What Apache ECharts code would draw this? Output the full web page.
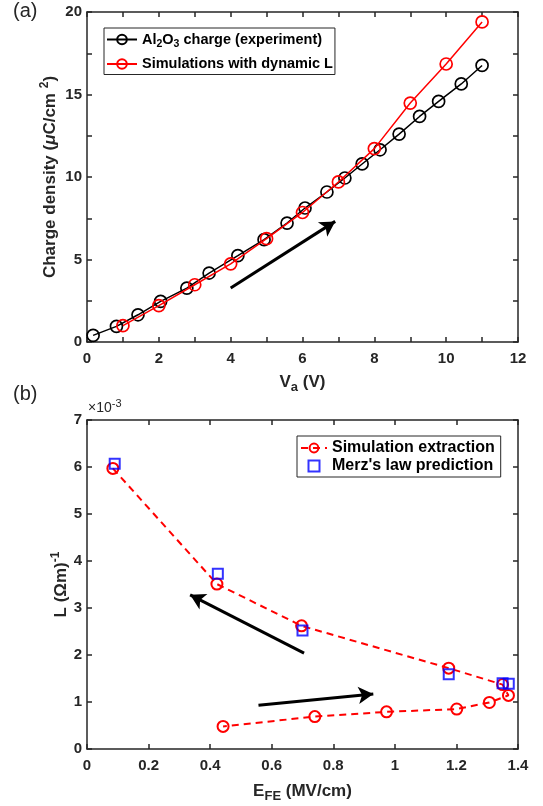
<!DOCTYPE html>
<html>
<head>
<meta charset="utf-8">
<script src="https://cdn.jsdelivr.net/npm/echarts@6/dist/echarts.min.js"></script>
<style>
  html, body { margin: 0; padding: 0; background: #fff; }
  #chart { width: 543px; height: 806px; }
</style>
</head>
<body>
<div id="chart"></div>
<script>
// (a) charge density vs applied voltage
var expVa = [0.17, 0.82, 1.42, 2.05, 2.78, 3.40, 4.20, 4.93, 5.57, 6.07, 6.68, 7.18, 7.66, 8.16, 8.69, 9.26, 9.79, 10.42, 11.0];
var expQ = [0.4, 0.95, 1.65, 2.46, 3.27, 4.18, 5.23, 6.2, 7.21, 8.12, 9.09, 9.94, 10.79, 11.65, 12.6, 13.67, 14.58, 15.64, 16.76];
var simVa = [1, 2, 3, 4, 5, 6, 7, 8, 9, 10, 11];
var simQ = [0.99, 2.2, 3.47, 4.74, 6.26, 7.85, 9.7, 11.72, 14.48, 16.85, 19.4];
var arrowA = [[4.0, 3.27], [6.91, 7.31]];

// (b) L vs E_FE (x1e-3)
var extE = [0.084, 0.422, 0.697, 1.175, 1.35, 1.369, 1.307, 1.201, 0.973, 0.74, 0.442];
var extL = [5.97, 3.51, 2.62, 1.72, 1.37, 1.14, 0.99, 0.85, 0.79, 0.69, 0.48];
var merzE = [0.09, 0.425, 0.70, 1.175, 1.35, 1.37];
var merzL = [6.07, 3.73, 2.52, 1.59, 1.40, 1.39];
var arrowB1 = [[0.705, 2.04], [0.335, 3.28]];
var arrowB2 = [[0.557, 0.93], [0.93, 1.17]];

var ink = '#262626';
var fontFam = '"Liberation Sans", Arial, sans-serif';

function pairs(xs, ys) {
  var out = [];
  for (var i = 0; i < xs.length; i++) out.push([xs[i], ys[i]]);
  return out;
}

// 箭头 (markLine in data coords)
function arrowLine(a) {
  return {
    silent: true,
    symbol: ['none', 'arrow'],
    symbolSize: [13, 15],
    label: { show: false },
    lineStyle: { color: '#000', width: 3, type: 'solid' },
    emphasis: { disabled: true },
    data: a.map(function (p) { return [{ coord: p[0] }, { coord: p[1] }]; })
  };
}

var nameStyle = {
  color: ink, fontWeight: 'bold', fontSize: 17, fontFamily: fontFam,
  rich: {
    sub: { fontSize: 13, fontWeight: 'bold', color: ink, fontFamily: fontFam, padding: [11, 0, 0, 0] },
    sup: { fontSize: 12, fontWeight: 'bold', color: ink, fontFamily: fontFam, padding: [0, 0, 10, 0] },
    it: { fontSize: 17, fontWeight: 'bold', fontStyle: 'italic', color: ink, fontFamily: fontFam }
  }
};

function mainAxis(grid, pos, min, max, interval, fmt, extra) {
  var ax = {
    type: 'value', gridIndex: grid, position: pos, min: min, max: max, interval: interval,
    axisLine: { show: true, onZero: false, lineStyle: { color: ink, width: 1.5 } },
    axisTick: { show: true, inside: true, length: 5, lineStyle: { color: ink, width: 1.5 } },
    splitLine: { show: false },
    axisLabel: {
      show: !!fmt, formatter: fmt, color: ink, fontWeight: 'bold', fontSize: 15, fontFamily: fontFam,
      margin: (pos === 'left' || pos === 'right') ? 5 : 9
    }
  };
  for (var k in extra) ax[k] = extra[k];
  return ax;
}

var chart = echarts.init(document.getElementById('chart'), null, { renderer: 'canvas' });

var option = {
  animation: false,
  backgroundColor: '#fff',
  grid: [
    { left: 87, right: 25, top: 12, height: 330 },
    { left: 87, right: 25, top: 420, height: 329 }
  ],
  xAxis: [
    mainAxis(0, 'bottom', 0, 12, 1, function (v) { return v % 2 === 0 ? v : ''; }, {
      name: 'V{sub|a} (V)', nameLocation: 'middle', nameGap: 28, nameTextStyle: nameStyle
    }),
    mainAxis(0, 'top', 0, 12, 1, null, {}),
    mainAxis(1, 'bottom', 0, 1.4, 0.2, function (v) { return +v.toFixed(1); }, {
      name: 'E{sub|FE} (MV/cm)', nameLocation: 'middle', nameGap: 30, nameTextStyle: nameStyle
    }),
    mainAxis(1, 'top', 0, 1.4, 0.2, null, {})
  ],
  yAxis: [
    mainAxis(0, 'left', 0, 20, 2.5, function (v) { return v % 5 === 0 ? v : ''; }, {
      name: 'Charge density ({it|μ}C/cm {sup|2})', nameLocation: 'middle', nameGap: 26,
      nameMoveOverlap: false, nameTextStyle: nameStyle
    }),
    mainAxis(0, 'right', 0, 20, 2.5, null, {}),
    mainAxis(1, 'left', 0, 7, 1, function (v) { return v; }, {
      name: 'L (Ωm){sup|-1}', nameLocation: 'middle', nameGap: 15,
      nameMoveOverlap: false, nameTextStyle: nameStyle
    }),
    mainAxis(1, 'right', 0, 7, 1, null, {})
  ],
  legend: [
    {
      left: 104, top: 28, orient: 'vertical',
      data: ['Al2O3 charge (experiment)', 'Simulations with dynamic L'],
      itemWidth: 30, itemHeight: 12, itemGap: 7,
      padding: [4, 2, 3, 2],
      borderColor: ink, borderWidth: 1,
      backgroundColor: '#fff',
      formatter: function (n) {
        return n === 'Al2O3 charge (experiment)' ? 'Al{sub|2}O{sub|3} charge (experiment)' : n;
      },
      textStyle: {
        color: '#000', fontWeight: 'bold', fontSize: 14.5, fontFamily: fontFam,
        rich: {
          sub: { fontSize: 10.5, fontWeight: 'bold', color: '#000', fontFamily: fontFam, padding: [9, 0, 0, 0] }
        }
      }
    },
    {
      left: 297, top: 436, orient: 'vertical',
      data: [
        { name: 'Simulation extraction' },
        { name: "Merz's law prediction", icon: 'path://M0,0H10V10H0Z' }
      ],
      itemWidth: 26, itemHeight: 11, itemGap: 2,
      padding: [4, 6, 3, 3],
      borderColor: ink, borderWidth: 1,
      backgroundColor: '#fff',
      textStyle: { color: '#000', fontWeight: 'bold', fontSize: 16, fontFamily: fontFam }
    }
  ],
  graphic: [
    { type: 'text', left: 13, top: 1, style: { text: '(a)', fontSize: 20, fill: ink, fontFamily: fontFam } },
    { type: 'text', left: 13, top: 384, style: { text: '(b)', fontSize: 20, fill: ink, fontFamily: fontFam } },
    {
      type: 'text', left: 88, top: 398,
      style: {
        text: '×10{sup|-3}', fontSize: 14, fill: ink, fontFamily: fontFam,
        rich: { sup: { fontSize: 11, fill: ink, fontFamily: fontFam, padding: [0, 0, 9, 0] } }
      }
    }
  ],
  series: [
    {
      name: 'Al2O3 charge (experiment)', type: 'line', xAxisIndex: 0, yAxisIndex: 0,
      data: pairs(expVa, expQ),
      symbol: 'circle', symbolSize: 12,
      lineStyle: { color: '#000', width: 1.5 },
      itemStyle: { color: 'rgba(255,255,255,0)', borderColor: '#000', borderWidth: 1.7 },
      emphasis: { disabled: true },
      markLine: arrowLine([arrowA]),
      z: 3
    },
    {
      name: 'Simulations with dynamic L', type: 'line', xAxisIndex: 0, yAxisIndex: 0,
      data: pairs(simVa, simQ),
      symbol: 'circle', symbolSize: 12,
      lineStyle: { color: '#ff0000', width: 1.5 },
      itemStyle: { color: 'rgba(255,255,255,0)', borderColor: '#ff0000', borderWidth: 1.7 },
      emphasis: { disabled: true },
      z: 4
    },
    {
      name: 'Simulation extraction', type: 'line', xAxisIndex: 2, yAxisIndex: 2,
      data: pairs(extE, extL),
      symbol: 'circle', symbolSize: 11,
      lineStyle: { color: '#ff0000', width: 2, type: [7, 5] },
      itemStyle: { color: 'rgba(255,255,255,0)', borderColor: '#ff0000', borderWidth: 2 },
      emphasis: { disabled: true },
      markLine: arrowLine([arrowB1, arrowB2]),
      z: 3
    },
    {
      name: "Merz's law prediction", type: 'scatter', xAxisIndex: 2, yAxisIndex: 2,
      data: pairs(merzE, merzL),
      symbol: 'rect', symbolSize: 10,
      itemStyle: { color: 'rgba(255,255,255,0)', borderColor: '#0000ff', borderWidth: 2 },
      emphasis: { disabled: true },
      z: 4
    }
  ]
};

chart.setOption(option);
</script>
</body>
</html>
